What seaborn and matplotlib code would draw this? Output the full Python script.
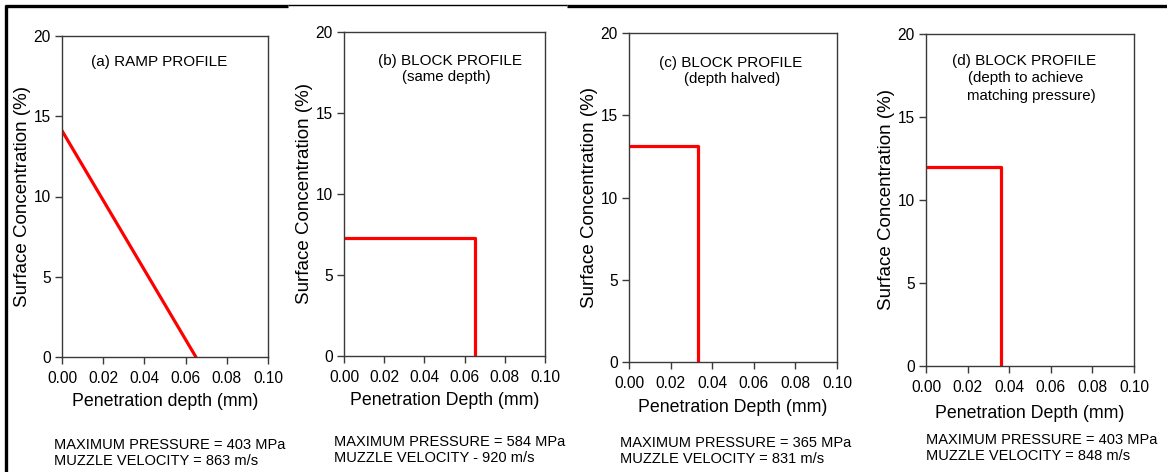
import matplotlib
matplotlib.use("Agg")
import matplotlib.pyplot as plt
from matplotlib.lines import Line2D
import seaborn as sns
import pandas as pd

# Concentration profiles: penetration depth (mm) vs surface concentration (%)
ramp_depth = [0.0, 0.065]
ramp_conc = [14.1, 0.0]

block_same_depth = [0.0, 0.065, 0.065]
block_same_conc = [7.27, 7.27, 0.0]

block_half_depth = [0.0, 0.033, 0.033]
block_half_conc = [13.15, 13.15, 0.0]

block_match_depth = [0.0, 0.036, 0.036]
block_match_conc = [12.0, 12.0, 0.0]

titles = [
    ["(a) RAMP PROFILE"],
    ["(b) BLOCK PROFILE", "(same depth)"],
    ["(c) BLOCK PROFILE", "(depth halved)"],
    ["(d) BLOCK PROFILE", "(depth to achieve", "matching pressure)"],
]
xlabels = ["Penetration depth (mm)", "Penetration Depth (mm)",
           "Penetration Depth (mm)", "Penetration Depth (mm)"]
ylabel = "Surface Concentration (%)"
max_pressure = [403, 584, 365, 403]
muzzle_velocity = [863, 920, 831, 848]
velocity_sep = ["=", "-", "=", "="]

x_ticks = [0.00, 0.02, 0.04, 0.06, 0.08, 0.10]
y_ticks = [0, 5, 10, 15, 20]

profiles = [
    (ramp_depth, ramp_conc),
    (block_same_depth, block_same_conc),
    (block_half_depth, block_half_conc),
    (block_match_depth, block_match_conc),
]

sns.set_theme(style="ticks")
plt.rcParams["font.family"] = ["Liberation Sans", "DejaVu Sans"]

W, H = 1167, 472
fig = plt.figure(figsize=(W / 100, H / 100), dpi=100)

# axes boxes in pixels: left, right, top, bottom
boxes = [
    (62, 268, 36, 357),
    (344, 545, 32, 356),
    (629, 837, 33, 362),
    (926, 1134, 34, 366),
]
# caption lines: (x-center, y) in pixels from the top-left
title_lines = [
    [(159, 62)],
    [(450, 61), (446, 77)],
    [(731, 63), (732, 79)],
    [(1024, 61), (1026, 78), (1031, 96)],
]
xlabel_pad = [5, 5, 6, 7]
note_pos = [(54, 445), (334, 442), (620, 443), (926, 440)]

spine_col = "#3a3a3a"

for i, ((l, r, t, b), (dx, cy)) in enumerate(zip(boxes, profiles)):
    ax = fig.add_axes([l / W, 1 - b / H, (r - l) / W, (b - t) / H])
    df = pd.DataFrame({"depth": dx, "conc": cy})
    sns.lineplot(data=df, x="depth", y="conc", ax=ax, color="#ff0000",
                 linewidth=2.3, sort=False, estimator=None)
    ax.set_xlim(0, 0.10)
    ax.set_ylim(0, 20)
    ax.set_xticks(x_ticks)
    ax.set_xticklabels([f"{v:.2f}" for v in x_ticks])
    ax.set_yticks(y_ticks)
    ax.tick_params(axis="both", direction="out", length=5, width=1,
                   color=spine_col, labelsize=11.2, labelcolor="black", pad=3)
    ax.tick_params(axis="x", pad=5)
    for s in ax.spines.values():
        s.set_color(spine_col)
        s.set_linewidth(1.0)
    ax.set_xlabel(xlabels[i], fontsize=12.8, labelpad=xlabel_pad[i],
                  color="black")
    ax.set_ylabel(ylabel, fontsize=13.5, labelpad=2, color="black")

    for k, (line, (tx, ty)) in enumerate(zip(titles[i], title_lines[i])):
        fig.text(tx / W, 1 - ty / H, line, ha="center", va="center",
                 fontsize=11 if k == 0 else 10.8, color="black")

    nx, ny = note_pos[i]
    fig.text(nx / W, 1 - ny / H,
             f"MAXIMUM PRESSURE = {max_pressure[i]} MPa",
             ha="left", va="center", fontsize=10.5, color="black")
    fig.text(nx / W, 1 - (ny + 16) / H,
             f"MUZZLE VELOCITY {velocity_sep[i]} {muzzle_velocity[i]} m/s",
             ha="left", va="center", fontsize=10.5, color="black")

# outer frame lines along the top and left edges
def px_line(x0, y0, x1, y1, lw):
    fig.add_artist(Line2D([x0 / W, x1 / W], [1 - y0 / H, 1 - y1 / H],
                          transform=fig.transFigure, color="black",
                          linewidth=lw, solid_capstyle="butt"))

px_line(6, 5, 6, H, 2.4)
px_line(5, 5.5, 288, 5.5, 2.4)
px_line(288, 5, 567, 5, 1.0)
px_line(567, 5.5, W, 5.5, 2.4)

fig.savefig("out.png", dpi=100)
